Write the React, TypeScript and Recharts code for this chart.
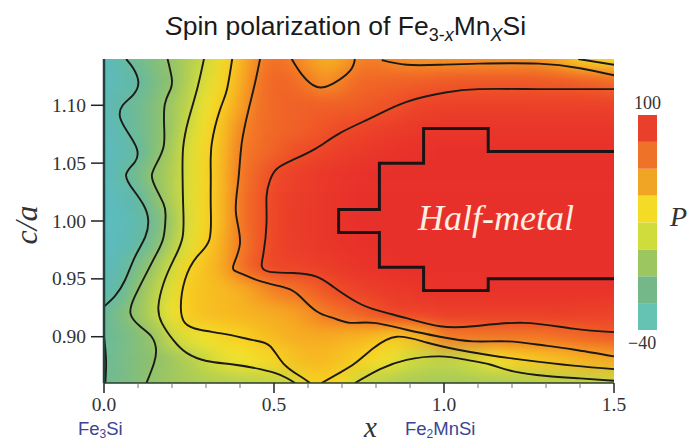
import { Bar, BarChart, ComposedChart, Line, Scatter, XAxis, YAxis } from "recharts";

// polarization P, top row is c/a = 1.14, bottom row is 0.86
const xValues = [0, 0.05, 0.1, 0.15, 0.2, 0.25, 0.3, 0.35, 0.4, 0.45, 0.5, 0.55, 0.6, 0.65, 0.7, 0.75, 0.8, 0.85, 0.9, 0.95, 1, 1.05, 1.1, 1.15, 1.2, 1.25, 1.3, 1.35, 1.4, 1.45, 1.5];
const yValues = [1.14, 1.12, 1.1, 1.08, 1.06, 1.04, 1.02, 1, 0.98, 0.96, 0.94, 0.92, 0.9, 0.88, 0.86];
const pValues = [
  [-36, -26, -15, -10, -3, 5, 13, 32, 48, 63, 70, 66, 58, 52, 56, 64, 65, 62, 60, 60, 60, 60, 60, 60, 60, 60, 58, 52, 40, 36, 32],
  [-36, -30, -22, -12, -5, 6, 18, 34, 52, 66, 73, 72, 66, 60, 65, 72, 73, 74, 75, 76, 77, 78, 78, 78, 78, 78, 77, 77, 76, 74, 72],
  [-33, -23, -16, -10, 0, 9, 24, 42, 56, 68, 72, 74, 75, 75, 75, 76, 78, 80, 84, 87, 88, 88, 88, 88, 88, 88, 88, 88, 88, 88, 88],
  [-35, -27, -17, -9, -1, 14, 30, 46, 62, 69, 72, 74, 76, 79, 82, 85, 88, 91, 93, 95, 96, 96, 96, 96, 96, 96, 96, 96, 96, 96, 96],
  [-37, -31, -21, -9, 3, 18, 34, 48, 65, 70, 74, 79, 82, 86, 90, 93, 96, 98, 99, 99, 100, 100, 100, 100, 100, 100, 100, 100, 100, 100, 100],
  [-37, -25, -14, -3, 5, 18, 36, 50, 66, 74, 82, 88, 92, 95, 97, 99, 100, 100, 100, 100, 100, 100, 100, 100, 100, 100, 100, 100, 100, 100, 100],
  [-38, -32, -23, -8, 5, 18, 36, 50, 67, 76, 85, 90, 93, 96, 98, 100, 100, 100, 100, 100, 100, 100, 100, 100, 100, 100, 100, 100, 100, 100, 100],
  [-39, -34, -27, -16, 0, 18, 36, 50, 67, 76, 85, 91, 94, 96, 98, 100, 100, 100, 100, 100, 100, 100, 100, 100, 100, 100, 100, 100, 100, 100, 100],
  [-38, -33, -25, -11, 4, 20, 40, 54, 65, 76, 85, 90, 93, 96, 98, 99, 100, 100, 100, 100, 100, 100, 100, 100, 100, 100, 100, 100, 100, 100, 100],
  [-34, -26, -12, 0, 14, 36, 46, 55, 68, 78, 84, 86, 88, 91, 94, 97, 98, 99, 100, 100, 100, 100, 100, 100, 100, 100, 100, 100, 100, 100, 100],
  [-30, -21, -5, 7, 20, 42, 46, 48, 52, 58, 64, 68, 72, 78, 83, 87, 91, 93, 95, 97, 98, 98, 98, 98, 98, 98, 98, 98, 98, 98, 98],
  [-20, -11, -2, 9, 24, 42, 46, 48, 50, 52, 54, 56, 60, 66, 70, 74, 79, 85, 86, 88, 90, 90, 90, 90, 90, 90, 90, 90, 89, 88, 87],
  [-19, -15, -9, -2, 12, 20, 26, 34, 38, 44, 48, 52, 54, 54, 52, 50, 46, 42, 46, 52, 65, 66, 67, 67, 67, 67, 68, 70, 72, 74, 76],
  [-18, -14, -9, -5, 0, 5, 12, 20, 25, 30, 36, 44, 48, 48, 44, 40, 30, 22, 14, 10, 9, 11, 17, 26, 36, 41, 44, 46, 50, 52, 54],
  [-17, -14, -8, -3, 0, 2, 4, 5, 6, 8, 10, 12, 37, 41, 32, 12, 8, 5, 3, 2, 2, 2, 3, 3, 4, 5, 6, 7, 8, 10, 12],
];

const colorStops: [number, string][] = [
  [-40, "#5bbcc4"], [-22, "#62b8a4"], [-5, "#8fc16c"], [12, "#cbd940"], [25, "#f3e42c"],
  [40, "#f8cf20"], [55, "#f6a822"], [65, "#f37d25"], [82, "#ee4a28"], [100, "#e8302a"],
];
const colorBands = ["#65c3b3", "#74b88a", "#9cc760", "#cfdc3c", "#f4dc26", "#f0a524", "#ee7228", "#e8402a"];
const bandSize = 17.5;

// contour lines as [x, c/a]
const contours: [number, number][][] = [
  [[0.065, 1.14], [0.086, 1.132], [0.101, 1.12], [0.086, 1.109], [0.055, 1.1], [0.047, 1.09], [0.067, 1.078], [0.096, 1.063], [0.091, 1.051], [0.065, 1.04], [0.086, 1.027], [0.116, 1.014], [0.13, 1.001], [0.121, 0.986], [0.091, 0.969], [0.062, 0.949], [0.032, 0.935], [0, 0.926]],
  [[0.187, 1.14], [0.199, 1.124], [0.196, 1.114], [0.179, 1.101], [0.177, 1.081], [0.175, 1.064], [0.155, 1.05], [0.141, 1.04], [0.15, 1.03], [0.175, 1.015], [0.181, 1.004], [0.175, 0.986], [0.155, 0.972], [0.125, 0.955], [0.091, 0.935], [0.078, 0.92], [0.106, 0.909], [0.14, 0.9], [0.153, 0.889], [0.147, 0.877], [0.125, 0.86]],
  [[0.294, 1.14], [0.273, 1.113], [0.248, 1.087], [0.233, 1.064], [0.231, 1.041], [0.233, 1.012], [0.231, 0.986], [0.204, 0.966], [0.175, 0.946], [0.16, 0.926], [0.17, 0.912], [0.204, 0.897], [0.243, 0.886], [0.302, 0.879], [0.38, 0.876], [0.459, 0.872], [0.518, 0.867], [0.562, 0.86]],
  [[0.738, 0.86], [0.812, 0.872], [0.89, 0.88], [0.988, 0.883], [1.067, 0.88], [1.135, 0.876], [1.204, 0.87], [1.302, 0.866], [1.4, 0.864], [1.5, 0.862]],
  [[0.377, 1.14], [0.361, 1.113], [0.341, 1.096], [0.317, 1.067], [0.314, 1.041], [0.314, 1.012], [0.31, 0.984], [0.273, 0.969], [0.238, 0.949], [0.226, 0.926], [0.238, 0.912], [0.282, 0.906], [0.361, 0.902], [0.439, 0.897], [0.488, 0.892], [0.527, 0.877], [0.576, 0.866], [0.606, 0.86]],
  [[0.64, 0.86], [0.694, 0.869], [0.738, 0.877], [0.792, 0.89], [0.861, 0.9], [0.949, 0.895], [1.037, 0.889], [1.135, 0.884], [1.233, 0.88], [1.38, 0.875], [1.5, 0.872]],
  [[0.459, 1.14], [0.444, 1.119], [0.425, 1.096], [0.405, 1.067], [0.395, 1.035], [0.388, 1.007], [0.4, 0.981], [0.38, 0.961], [0.4, 0.955], [0.459, 0.948], [0.537, 0.942], [0.576, 0.935], [0.625, 0.922], [0.675, 0.916], [0.724, 0.912], [0.792, 0.912], [0.89, 0.906], [0.988, 0.9], [1.086, 0.896], [1.184, 0.896], [1.282, 0.893], [1.38, 0.889], [1.5, 0.883]],
  [[1.5, 1.114], [1.278, 1.114], [1.102, 1.114], [1.004, 1.111], [0.89, 1.103], [0.792, 1.09], [0.694, 1.076], [0.625, 1.063], [0.557, 1.053], [0.508, 1.045], [0.488, 1.035], [0.478, 1.021], [0.478, 0.998], [0.469, 0.972], [0.464, 0.961], [0.488, 0.956], [0.557, 0.955], [0.625, 0.952], [0.675, 0.943], [0.743, 0.93], [0.802, 0.923], [0.89, 0.916], [0.988, 0.909], [1.086, 0.909], [1.233, 0.912], [1.38, 0.907], [1.5, 0.904]],
  [[0.817, 1.139], [0.89, 1.135], [0.988, 1.135], [1.102, 1.136], [1.278, 1.136], [1.4, 1.132], [1.5, 1.126]],
  [[1.395, 1.14], [1.5, 1.135]],
  [[0.552, 1.14], [0.581, 1.127], [0.625, 1.116], [0.675, 1.119], [0.724, 1.13], [0.738, 1.14]],
  [[0, 0.9], [0.006, 0.88], [0.004, 0.86]],
];
const halfMetal: [number, number][] = [
  [1.5, 1.06], [1.13, 1.06], [1.13, 1.08], [0.94, 1.08], [0.94, 1.05], [0.81, 1.05], [0.81, 1.01], [0.69, 1.01],
  [0.69, 0.99], [0.81, 0.99], [0.81, 0.96], [0.94, 0.96], [0.94, 0.94], [1.13, 0.94], [1.13, 0.95], [1.5, 0.95],
];

const xTicks = [0, 0.1, 0.2, 0.3, 0.4, 0.5, 0.6, 0.7, 0.8, 0.9, 1, 1.1, 1.2, 1.3, 1.4, 1.5];
const xLabels = [0, 0.5, 1, 1.5];
const yTicks = [0.9, 0.95, 1, 1.05, 1.1];

const toColor = (p: number) => {
  for (let i = 1; i < colorStops.length; i++) {
    const [p1, c1] = colorStops[i - 1];
    const [p2, c2] = colorStops[i];
    if (p <= p2) {
      const t = (p - p1) / (p2 - p1);
      const mix = [1, 3, 5].map((s) => {
        const a = parseInt(c1.slice(s, s + 2), 16);
        const b = parseInt(c2.slice(s, s + 2), 16);
        return Math.round(a + (b - a) * t);
      });
      return `rgb(${mix.join(",")})`;
    }
  }
  return colorStops[colorStops.length - 1][1];
};

const heatCells = pValues.flatMap((row, r) => row.map((p, c) => ({ x: xValues[c], y: yValues[r], p })));
const toPoints = (pts: [number, number][]) => pts.map(([x, y]) => ({ x, y }));

const CELL_W = 17;
const CELL_H = 23.2;
const EDGE = 40;

// edge cells run past the plot so the blur doesn't fade out at the border
const HeatCell = (props: any) => {
  const { cx, cy, payload } = props;
  const left = payload.x === 0 ? EDGE : CELL_W / 2;
  const right = payload.x === 1.5 ? EDGE : CELL_W / 2;
  const top = payload.y === 1.14 ? EDGE : CELL_H / 2;
  const bottom = payload.y === 0.86 ? EDGE : CELL_H / 2;
  return <rect x={cx - left} y={cy - top} width={left + right + 0.5} height={top + bottom + 0.5} fill={toColor(payload.p)} />;
};

const XTick = (props: any) => {
  const { x, y, payload } = props;
  const major = xLabels.includes(payload.value);
  return (
    <g>
      <line x1={x} x2={x} y1={y} y2={y + (major ? 10 : 5)} stroke={major ? "#222" : "#777"} strokeWidth={major ? 1.5 : 1} />
      {major && (
        <text x={x} y={y + 28} textAnchor="middle" fontFamily="Liberation Serif" fontSize={19.5} fill="#333">
          {payload.value.toFixed(1)}
        </text>
      )}
    </g>
  );
};

const YTick = (props: any) => {
  const { x, y, payload } = props;
  return (
    <g>
      <line x1={x - 13} x2={x} y1={y} y2={y} stroke="#222" strokeWidth={1.5} />
      <text x={x - 18} y={y + 6.5} textAnchor="end" fontFamily="Liberation Serif" fontSize={19.5} fill="#333">
        {payload.value.toFixed(2)}
      </text>
    </g>
  );
};

const label = (left: number, top: number, extra: React.CSSProperties = {}): React.CSSProperties => ({
  position: "absolute",
  left,
  top,
  whiteSpace: "nowrap",
  lineHeight: 1,
  ...extra,
});

const serifItalic = { fontFamily: "Liberation Serif", fontStyle: "italic", color: "#333" };
const sub = { fontSize: 18, verticalAlign: -6, lineHeight: 0 };
const blueLabel = { fontFamily: "Liberation Sans", fontSize: 18.5, color: "#3c4590" };
const smallSub = { fontSize: 12, verticalAlign: -3, lineHeight: 0 };

export default function App() {
  const bandRow = [Object.fromEntries(colorBands.map((_, i) => [`band${i}`, bandSize]))];
  return (
    <div style={{ position: "absolute", left: 0, top: 0, width: 689, height: 443, background: "#fff", overflow: "hidden" }}>
      <style>{`
        .heat { filter: blur(8px); clip-path: url(#plotArea); }
        .contour { clip-path: url(#plotArea); }
      `}</style>
      <svg width={0} height={0} style={{ position: "absolute" }}>
        <defs>
          <clipPath id="plotArea">
            <rect x={104} y={59} width={510} height={324} />
          </clipPath>
        </defs>
      </svg>

      <ComposedChart width={689} height={443} margin={{ top: 59, right: 75, bottom: 0, left: 0 }}>
        <Scatter className="heat" data={heatCells} shape={HeatCell} isAnimationActive={false} zIndex={1} />
        {contours.map((pts, i) => (
          <Line
            key={i}
            className="contour"
            data={toPoints(pts)}
            dataKey="y"
            type="natural"
            stroke="#1c1a14"
            strokeWidth={1.9}
            dot={false}
            activeDot={false}
            isAnimationActive={false}
          />
        ))}
        <Line
          className="contour"
          data={toPoints(halfMetal)}
          dataKey="y"
          type="linear"
          stroke="#1c1414"
          strokeWidth={3}
          dot={false}
          activeDot={false}
          isAnimationActive={false}
        />
        <XAxis
          dataKey="x"
          type="number"
          domain={[0, 1.5]}
          ticks={xTicks}
          height={60}
          interval={0}
          tickSize={0}
          tickMargin={0}
          tickLine={false}
          tick={XTick}
          axisLine={{ stroke: "#2a3a30", strokeWidth: 1.5 }}
        />
        <YAxis
          dataKey="y"
          type="number"
          domain={[0.86, 1.14]}
          ticks={yTicks}
          width={104}
          interval={0}
          tickSize={0}
          tickMargin={0}
          tickLine={false}
          tick={YTick}
          axisLine={{ stroke: "#24423c", strokeWidth: 2.5 }}
        />
      </ComposedChart>

      <div style={label(638, 115)}>
        <BarChart width={19} height={215} data={bandRow} margin={{ top: 0, right: 0, bottom: 0, left: 0 }} barCategoryGap={0}>
          <XAxis hide />
          <YAxis hide domain={[0, 140]} />
          {colorBands.map((color, i) => (
            <Bar key={color} dataKey={`band${i}`} stackId="bar" fill={color} isAnimationActive={false} />
          ))}
        </BarChart>
      </div>

      <div style={label(165, 13, { fontFamily: "Liberation Sans", fontSize: 26.5, color: "#1a1a1a" })}>
        <i>S</i>pin polarization of Fe<span style={sub}>3-<i>x</i></span>Mn<span style={sub}><i>X</i></span>Si
      </div>
      <div style={label(418, 200, { fontFamily: "Liberation Serif", fontStyle: "italic", fontSize: 36, color: "#fbeee2" })}>Half-metal</div>
      <div style={label(634, 94, { fontFamily: "Liberation Serif", fontSize: 18, color: "#333" })}>100</div>
      <div style={label(628, 334, { fontFamily: "Liberation Serif", fontSize: 18, color: "#333" })}>−40</div>
      <div style={label(670, 203, { ...serifItalic, fontSize: 28 })}>P</div>
      <div style={label(364, 413, { ...serifItalic, fontSize: 29 })}>x</div>
      <div style={label(-4, 209, { ...serifItalic, fontSize: 32, transform: "rotate(-90deg)", width: 60, textAlign: "center" })}>c/a</div>
      <div style={label(78, 420, blueLabel)}>
        Fe<span style={smallSub}>3</span>Si
      </div>
      <div style={label(405, 420, blueLabel)}>
        Fe<span style={smallSub}>2</span>MnSi
      </div>
    </div>
  );
}
